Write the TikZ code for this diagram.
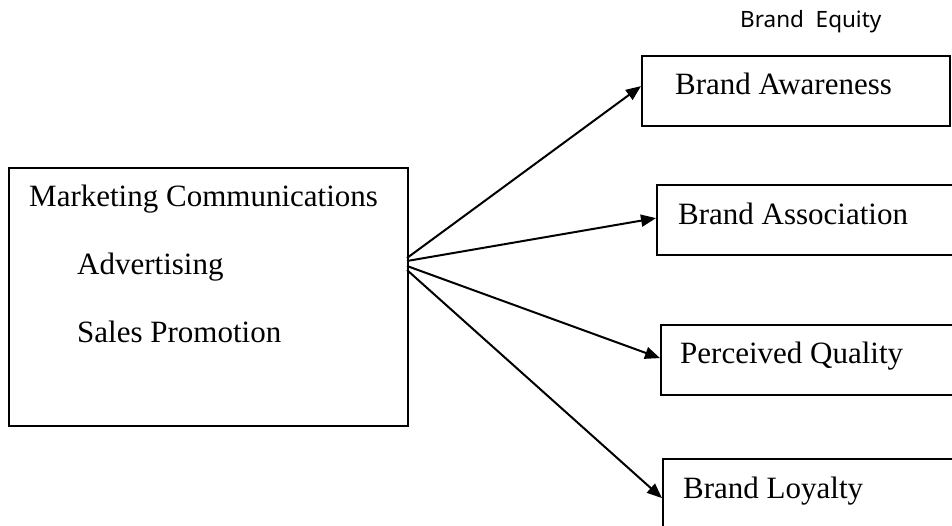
\documentclass[tikz,border=0pt]{standalone}
\usepackage{fontspec}
\setmainfont{Liberation Serif}
\newfontfamily\sansf{Noto Sans}
\usetikzlibrary{arrows.meta}
\begin{document}
\begin{tikzpicture}[x=1pt,y=-1pt,
  box/.style={draw, line width=2.2pt, rectangle, anchor=north west, inner sep=0pt, minimum height=70pt},
  lbl/.style={anchor=base west, inner sep=0pt, font=\fontsize{31}{37}\selectfont},
  conn/.style={line width=2pt, -{Triangle[length=15pt,width=12pt]}}]
\clip (0,0) rectangle (952,526);
\fill[white] (0,0) rectangle (952,526);
% boxes
\node[box, minimum width=399pt, minimum height=258pt] (mc) at (8,167) {};
\node[box, minimum width=308pt] (aw) at (641,55) {};
\node[box, minimum width=310pt] (as) at (656,184) {};
\node[box, minimum width=310pt] (pq) at (660,324) {};
\node[box, minimum width=310pt] (bl) at (662,458) {};
% texts
\node[anchor=base west, inner sep=0pt, font=\sansf\fontsize{22.5}{27}\selectfont] (be) at (740,28) {Brand\ \ Equity};
\node[lbl] (t1) at (29,207) {Marketing Communications};
\node[lbl] (t2) at (77,275) {Advertising};
\node[lbl] (t3) at (77,342) {Sales Promotion};
\node[lbl] (t4) at (675,95) {Brand Awareness};
\node[lbl] (t5) at (678,225) {Brand Association};
\node[lbl] (t6) at (680,363) {Perceived Quality};
\node[lbl] (t7) at (683,498) {Brand Loyalty};
% source points on main box
\coordinate (s1) at (407,258);
\coordinate (s2) at (407,261);
\coordinate (s3) at (407,266);
\coordinate (s4) at (407,270);
% connectors
\draw[conn] (s1) -- ([yshift=5pt]aw.west);
\draw[conn] (s2) -- ([yshift=2pt]as.west);
\draw[conn] (s3) -- ([yshift=2pt]pq.west);
\draw[conn] (s4) -- ([yshift=-4pt]bl.west);
\end{tikzpicture}
\end{document}
